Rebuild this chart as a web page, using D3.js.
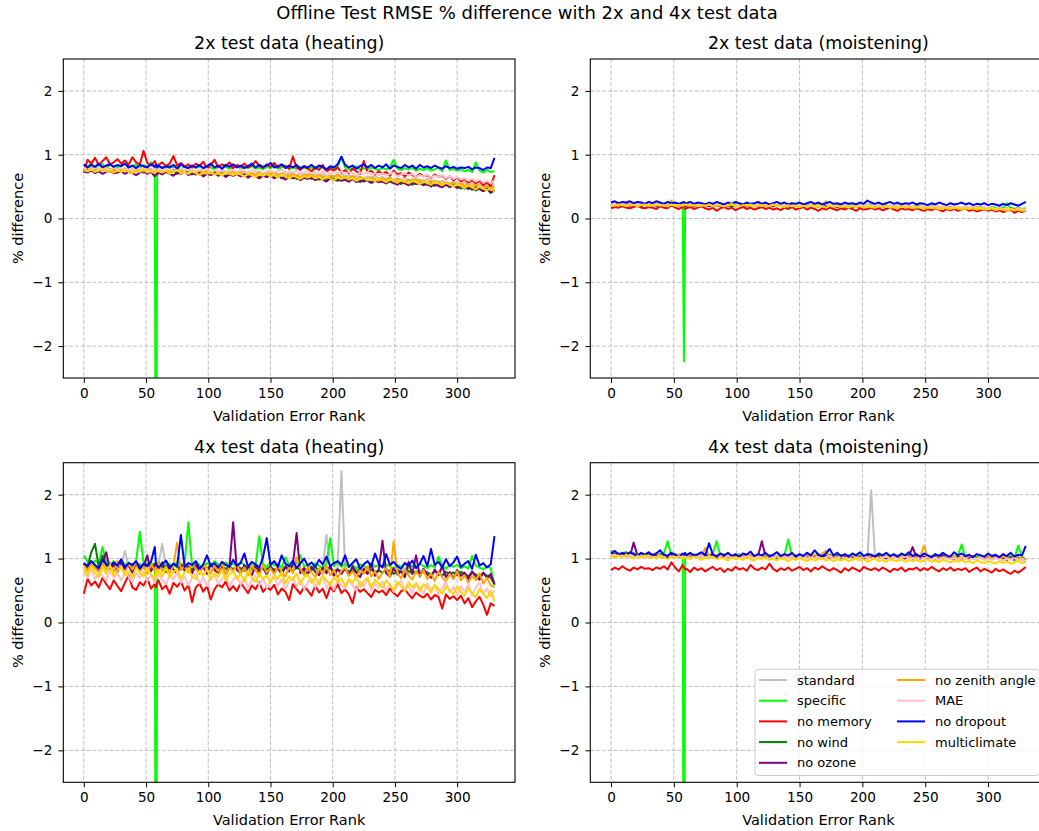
<!DOCTYPE html>
<html><head><meta charset="utf-8">
<script src="https://cdn.jsdelivr.net/npm/d3@7"></script>
<style>body{margin:0;background:#fff} svg{display:block;font-family:"DejaVu Sans",sans-serif}</style>
</head><body><svg id="c" width="1039" height="831"></svg>
<script>
const seriesNames = ["standard","specific","no memory","no wind","no ozone","no zenith angle","MAE","no dropout","multiclimate"];
const seriesColors = ["#c0c0c0","#00ff00","#ff0000","#008000","#800080","#ffa500","#ffc0cb","#0000ff","#ffd700"];
const xTicks = [0,50,100,150,200,250,300];
const yTicks = [-2,-1,0,1,2];
// validation error ranks at which values were read (every 3rd rank, plus 58 and 59)
const ranks = [...d3.range(0, 58, 3), 58, 59, ...d3.range(60, 331, 3)];

// ---- 2x heating ----
const h2_standard = [0.79,0.77,0.80,0.76,0.78,0.75,0.79,0.77,0.74,0.78, 0.76,0.79,0.75,0.77,0.74,0.78,0.76,0.73,0.77,0.75,0.76,0.74, 0.77,0.74,0.76,0.73,0.77,0.75,0.72,0.76,0.74,0.77, 0.73,0.75,0.72,0.76,0.71,0.74,0.72,0.75,0.70,0.73, 0.74,0.71,0.73,0.70,0.74,0.71,0.69,0.73,0.70,0.72, 0.70,0.73,0.69,0.71,0.68,0.72,0.69,0.67,0.71,0.68, 0.70,0.67,0.69,0.66,0.70,0.67,0.65,0.68,0.66,0.69, 0.66,0.68,0.64,0.67,0.65,0.62,0.66,0.64,0.67,0.63, 0.65,0.62,0.64,0.60,0.63,0.61,0.64,0.59,0.62,0.60, 0.61,0.58,0.62,0.57,0.60,0.56,0.59,0.57,0.55,0.58, 0.56,0.53,0.57,0.52,0.55,0.51,0.54,0.50,0.53,0.48,0.52];
const h2_specific = [0.84,0.81,0.86,0.80,0.83,0.85,0.79,0.84,0.82,0.80, 0.83,0.86,0.80,0.82,0.85,0.79,0.84,0.81,0.88,0.82,-6.5,0.81, 0.80,0.81,0.79,0.83,0.80,0.84,0.78,0.82,0.80,0.83, 0.79,0.82,0.78,0.81,0.80,0.77,0.82,0.79,0.81,0.78, 0.80,0.83,0.78,0.81,0.79,0.82,0.78,0.80,0.77,0.81, 0.79,0.82,0.78,0.80,0.83,0.77,0.80,0.78,0.81,0.79, 0.78,0.80,0.77,0.81,0.79,0.76,0.80,0.78,0.82,0.96, 0.80,0.77,0.79,0.82,0.76,0.79,0.77,0.80,0.78,0.76, 0.79,0.77,0.80,0.92,0.78,0.76,0.79,0.77,0.80,0.75, 0.78,0.76,0.79,0.75,0.77,0.80,0.74,0.91,0.76,0.78, 0.75,0.77,0.74,0.76,0.73,0.88,0.75,0.72,0.76,0.73,0.74];
const h2_noMemory = [0.72,0.92,0.86,0.95,0.84,0.90,0.96,0.85,0.88,0.93, 0.86,0.91,0.84,0.96,0.88,0.85,1.06,0.87,0.83,0.90,0.86,0.81, 0.84,0.88,0.82,0.86,0.98,0.83,0.87,0.81,0.85,0.80, 0.86,0.82,0.89,0.78,0.84,0.92,0.80,0.85,0.82,0.88, 0.79,0.84,0.81,0.86,0.80,0.83,0.90,0.82,0.79,0.85, 0.81,0.87,0.80,0.84,0.82,0.78,0.97,0.80,0.76,0.82, 0.78,0.74,0.80,0.76,0.84,0.73,0.78,0.75,0.80,0.72, 0.76,0.71,0.78,0.74,0.70,0.90,0.72,0.75,0.69,0.74, 0.70,0.73,0.67,0.75,0.69,0.71,0.66,0.72,0.68,0.65, 0.70,0.66,0.68,0.63,0.69,0.65,0.67,0.62,0.66,0.60, 0.64,0.58,0.62,0.56,0.60,0.55,0.59,0.52,0.57,0.50,0.68];
const h2_noWind = [0.77,0.79,0.74,0.80,0.76,0.78,0.75,0.77,0.73,0.76, 0.75,0.77,0.73,0.76,0.74,0.78,0.72,0.75,0.73,0.71,0.74,0.72, 0.75,0.72,0.74,0.71,0.76,0.70,0.73,0.75,0.71,0.69, 0.72,0.70,0.67,0.71,0.69,0.73,0.68,0.71,0.66,0.70, 0.68,0.71,0.67,0.69,0.66,0.70,0.67,0.65,0.69,0.66, 0.68,0.65,0.67,0.63,0.66,0.64,0.67,0.62,0.65,0.63, 0.65,0.62,0.64,0.61,0.63,0.60,0.64,0.62,0.59,0.63, 0.61,0.58,0.62,0.60,0.57,0.61,0.59,0.56,0.60,0.58, 0.59,0.56,0.58,0.55,0.57,0.54,0.58,0.55,0.53,0.56, 0.54,0.57,0.52,0.55,0.51,0.54,0.50,0.53,0.49,0.52, 0.50,0.47,0.51,0.46,0.49,0.44,0.47,0.43,0.46,0.40,0.44];
const h2_noOzone = [0.74,0.72,0.76,0.71,0.74,0.70,0.73,0.75,0.71,0.72, 0.74,0.70,0.73,0.71,0.68,0.72,0.74,0.70,0.73,0.66,0.71,0.69, 0.72,0.69,0.73,0.70,0.67,0.72,0.70,0.74,0.68,0.71, 0.69,0.72,0.66,0.70,0.68,0.71,0.67,0.70,0.65,0.69, 0.67,0.70,0.66,0.69,0.64,0.68,0.66,0.63,0.67,0.65, 0.68,0.63,0.66,0.64,0.61,0.65,0.63,0.66,0.60,0.64, 0.62,0.65,0.60,0.63,0.61,0.58,0.63,0.60,0.62,0.59, 0.61,0.58,0.62,0.57,0.60,0.58,0.61,0.56,0.59,0.57, 0.58,0.55,0.60,0.56,0.53,0.58,0.55,0.52,0.57,0.54, 0.56,0.52,0.55,0.50,0.54,0.51,0.49,0.53,0.50,0.52, 0.48,0.51,0.47,0.50,0.45,0.49,0.46,0.43,0.47,0.41,0.45];
const h2_noZenith = [0.78,0.75,0.79,0.74,0.77,0.76,0.80,0.73,0.77,0.75, 0.76,0.78,0.73,0.77,0.75,0.79,0.74,0.76,0.78,0.73,0.77,0.74, 0.76,0.74,0.78,0.72,0.75,0.77,0.73,0.76,0.80,0.74, 0.72,0.75,0.71,0.74,0.70,0.76,0.72,0.69,0.74,0.71, 0.73,0.70,0.72,0.75,0.69,0.71,0.68,0.73,0.70,0.72, 0.69,0.72,0.67,0.70,0.73,0.66,0.70,0.68,0.65,0.69, 0.67,0.70,0.65,0.68,0.66,0.63,0.68,0.65,0.69,0.64, 0.66,0.63,0.67,0.61,0.65,0.63,0.60,0.64,0.62,0.59, 0.63,0.60,0.64,0.58,0.62,0.59,0.57,0.61,0.58,0.62, 0.57,0.60,0.55,0.59,0.56,0.58,0.54,0.57,0.53,0.56, 0.52,0.55,0.51,0.54,0.49,0.53,0.50,0.47,0.51,0.46,0.50];
const h2_MAE = [0.78,0.80,0.76,0.79,0.77,0.81,0.78,0.76,0.80,0.77, 0.79,0.76,0.78,0.75,0.80,0.77,0.79,0.74,0.77,0.76,0.79,0.75, 0.78,0.75,0.77,0.79,0.74,0.77,0.80,0.75,0.78,0.76, 0.74,0.77,0.75,0.78,0.73,0.76,0.74,0.77,0.72,0.75, 0.76,0.73,0.77,0.74,0.72,0.76,0.73,0.75,0.71,0.74, 0.75,0.72,0.74,0.77,0.71,0.74,0.72,0.75,0.70,0.73, 0.74,0.71,0.73,0.70,0.74,0.72,0.69,0.73,0.71,0.74, 0.70,0.73,0.71,0.68,0.72,0.70,0.73,0.69,0.71,0.68, 0.71,0.67,0.70,0.72,0.66,0.69,0.71,0.67,0.70,0.65, 0.68,0.66,0.69,0.64,0.67,0.65,0.68,0.63,0.66,0.62, 0.65,0.61,0.63,0.59,0.62,0.58,0.61,0.56,0.59,0.55,0.60];
const h2_noDropout = [0.85,0.80,0.84,0.81,0.86,0.80,0.83,0.85,0.81,0.84, 0.82,0.86,0.80,0.83,0.79,0.84,0.82,0.80,0.85,0.81,0.84,0.80, 0.83,0.79,0.82,0.80,0.84,0.78,0.85,0.81,0.79,0.83, 0.80,0.84,0.79,0.82,0.86,0.80,0.83,0.78,0.84,0.81, 0.85,0.80,0.83,0.79,0.82,0.86,0.80,0.84,0.81,0.83, 0.87,0.80,0.82,0.85,0.79,0.83,0.80,0.84,0.78,0.82, 0.80,0.84,0.79,0.83,0.81,0.77,0.82,0.80,0.85,0.97, 0.84,0.80,0.83,0.78,0.82,0.85,0.80,0.84,0.79,0.83, 0.80,0.85,0.78,0.83,0.81,0.79,0.84,0.80,0.83,0.78, 0.84,0.80,0.82,0.79,0.83,0.80,0.78,0.82,0.79,0.81, 0.78,0.80,0.79,0.81,0.77,0.80,0.79,0.76,0.80,0.79,0.95];
const h2_multiclimate = [0.76,0.74,0.77,0.73,0.75,0.78,0.74,0.76,0.72,0.75, 0.73,0.76,0.74,0.71,0.75,0.73,0.77,0.72,0.74,0.71,0.73,0.75, 0.74,0.72,0.75,0.70,0.73,0.76,0.71,0.73,0.70,0.74, 0.71,0.68,0.72,0.70,0.73,0.69,0.71,0.67,0.72,0.70, 0.68,0.71,0.69,0.66,0.70,0.68,0.65,0.69,0.67,0.70, 0.66,0.68,0.64,0.69,0.66,0.63,0.67,0.65,0.62,0.66, 0.64,0.67,0.63,0.65,0.61,0.66,0.63,0.60,0.64,0.62, 0.65,0.61,0.63,0.59,0.62,0.64,0.60,0.62,0.58,0.63, 0.60,0.57,0.61,0.59,0.56,0.60,0.58,0.55,0.59,0.57, 0.54,0.58,0.56,0.53,0.57,0.55,0.52,0.56,0.53,0.50, 0.54,0.51,0.48,0.52,0.49,0.46,0.50,0.47,0.44,0.48,0.42];

// ---- 2x moistening ----
const m2_standard = [0.22,0.21,0.23,0.22,0.21,0.23,0.22,0.20,0.22,0.21, 0.22,0.20,0.22,0.21,0.23,0.21,0.22,0.20,0.21,0.22,0.21,0.22, 0.21,0.22,0.20,0.22,0.21,0.20,0.22,0.21,0.20,0.22, 0.21,0.20,0.22,0.21,0.19,0.21,0.20,0.22,0.20,0.21, 0.20,0.22,0.20,0.21,0.19,0.21,0.20,0.19,0.21,0.20, 0.21,0.19,0.20,0.22,0.19,0.20,0.21,0.19,0.20,0.21, 0.19,0.20,0.18,0.20,0.19,0.21,0.19,0.20,0.22,0.20, 0.19,0.20,0.18,0.19,0.20,0.18,0.19,0.17,0.19,0.18, 0.19,0.17,0.18,0.19,0.17,0.18,0.16,0.18,0.17,0.18, 0.16,0.18,0.17,0.16,0.18,0.16,0.17,0.15,0.17,0.16, 0.15,0.17,0.16,0.14,0.16,0.15,0.14,0.16,0.13,0.15,0.14];
const m2_specific = [0.23,0.22,0.24,0.21,0.23,0.22,0.24,0.21,0.23,0.22, 0.21,0.23,0.22,0.20,0.23,0.21,0.22,0.24,0.21,0.22,-2.24,0.21, 0.22,0.21,0.23,0.20,0.22,0.21,0.23,0.20,0.22,0.21, 0.20,0.22,0.21,0.23,0.20,0.22,0.21,0.20,0.22,0.21, 0.22,0.20,0.21,0.23,0.20,0.21,0.19,0.22,0.20,0.21, 0.20,0.22,0.19,0.21,0.20,0.22,0.19,0.21,0.20,0.19, 0.21,0.19,0.20,0.22,0.19,0.21,0.20,0.19,0.21,0.22, 0.20,0.19,0.21,0.18,0.20,0.19,0.21,0.18,0.20,0.19, 0.18,0.20,0.19,0.17,0.19,0.18,0.20,0.17,0.19,0.18, 0.17,0.19,0.18,0.16,0.18,0.17,0.19,0.16,0.18,0.17, 0.16,0.18,0.17,0.15,0.17,0.24,0.16,0.15,0.17,0.15,0.16];
const m2_noMemory = [0.16,0.18,0.17,0.19,0.17,0.16,0.18,0.20,0.17,0.16, 0.18,0.17,0.15,0.19,0.17,0.16,0.21,0.17,0.15,0.18,0.17,0.15, 0.16,0.18,0.15,0.17,0.19,0.16,0.14,0.17,0.12,0.16, 0.18,0.15,0.17,0.13,0.16,0.18,0.15,0.17,0.14,0.16, 0.18,0.15,0.17,0.14,0.16,0.13,0.17,0.15,0.18,0.14, 0.16,0.18,0.14,0.17,0.15,0.12,0.16,0.14,0.17,0.15, 0.13,0.16,0.14,0.17,0.15,0.12,0.16,0.14,0.15,0.17, 0.14,0.16,0.13,0.15,0.17,0.14,0.12,0.16,0.14,0.15, 0.13,0.16,0.14,0.12,0.15,0.13,0.16,0.14,0.11,0.15, 0.13,0.15,0.12,0.14,0.16,0.12,0.14,0.11,0.13,0.15, 0.12,0.14,0.11,0.13,0.10,0.12,0.14,0.09,0.12,0.10,0.13];
const m2_noWind = [0.21,0.23,0.22,0.20,0.22,0.21,0.23,0.22,0.20,0.22, 0.21,0.22,0.20,0.22,0.21,0.23,0.20,0.21,0.22,0.20,0.21,0.22, 0.21,0.20,0.22,0.21,0.19,0.22,0.20,0.21,0.20,0.22, 0.20,0.21,0.19,0.22,0.20,0.21,0.19,0.21,0.20,0.19, 0.21,0.19,0.20,0.22,0.19,0.21,0.20,0.19,0.20,0.21, 0.19,0.21,0.20,0.19,0.21,0.19,0.20,0.18,0.20,0.19, 0.20,0.18,0.19,0.21,0.18,0.20,0.19,0.18,0.20,0.19, 0.18,0.20,0.19,0.17,0.19,0.18,0.20,0.17,0.18,0.19, 0.17,0.18,0.16,0.18,0.17,0.19,0.16,0.18,0.17,0.16, 0.18,0.16,0.17,0.15,0.17,0.16,0.18,0.15,0.16,0.17, 0.15,0.16,0.14,0.16,0.15,0.13,0.16,0.14,0.15,0.13,0.14];
const m2_noOzone = [0.22,0.20,0.22,0.21,0.23,0.20,0.22,0.21,0.20,0.22, 0.20,0.22,0.21,0.19,0.22,0.20,0.21,0.23,0.20,0.21,0.22,0.20, 0.20,0.22,0.19,0.21,0.20,0.22,0.19,0.21,0.20,0.19, 0.21,0.20,0.22,0.19,0.21,0.20,0.19,0.21,0.20,0.22, 0.19,0.21,0.20,0.19,0.21,0.20,0.18,0.20,0.19,0.21, 0.20,0.19,0.21,0.18,0.20,0.19,0.21,0.18,0.19,0.20, 0.18,0.20,0.19,0.18,0.20,0.19,0.17,0.19,0.20,0.18, 0.19,0.18,0.20,0.17,0.19,0.18,0.17,0.19,0.18,0.20, 0.17,0.19,0.18,0.16,0.18,0.17,0.19,0.16,0.18,0.17, 0.16,0.18,0.17,0.15,0.17,0.16,0.15,0.17,0.16,0.14, 0.16,0.15,0.13,0.15,0.14,0.16,0.13,0.15,0.14,0.12,0.14];
const m2_noZenith = [0.22,0.21,0.23,0.22,0.20,0.22,0.21,0.23,0.21,0.22, 0.20,0.22,0.21,0.23,0.21,0.20,0.28,0.21,0.20,0.22,0.21,0.23, 0.21,0.22,0.20,0.21,0.23,0.20,0.22,0.21,0.20,0.22, 0.21,0.20,0.22,0.20,0.21,0.23,0.20,0.21,0.19,0.21, 0.20,0.22,0.19,0.21,0.20,0.22,0.19,0.21,0.20,0.19, 0.21,0.20,0.19,0.21,0.20,0.18,0.21,0.27,0.20,0.19, 0.20,0.19,0.21,0.18,0.20,0.19,0.21,0.18,0.20,0.19, 0.18,0.20,0.19,0.21,0.18,0.19,0.17,0.20,0.18,0.19, 0.18,0.17,0.19,0.18,0.16,0.18,0.17,0.19,0.16,0.18, 0.17,0.16,0.18,0.17,0.15,0.17,0.16,0.18,0.15,0.16, 0.15,0.17,0.14,0.16,0.15,0.13,0.15,0.14,0.16,0.13,0.14];
const m2_MAE = [0.22,0.23,0.21,0.23,0.22,0.21,0.23,0.22,0.24,0.21, 0.23,0.22,0.21,0.23,0.22,0.24,0.21,0.22,0.23,0.21,0.22,0.23, 0.22,0.23,0.21,0.22,0.20,0.23,0.21,0.22,0.24,0.21, 0.22,0.21,0.23,0.20,0.22,0.21,0.23,0.20,0.22,0.21, 0.20,0.22,0.21,0.23,0.20,0.22,0.21,0.20,0.22,0.21, 0.22,0.20,0.21,0.19,0.22,0.20,0.21,0.23,0.20,0.21, 0.19,0.21,0.20,0.22,0.19,0.21,0.20,0.19,0.21,0.20, 0.21,0.19,0.20,0.18,0.21,0.19,0.20,0.18,0.20,0.19, 0.20,0.18,0.19,0.17,0.19,0.18,0.20,0.17,0.19,0.18, 0.17,0.19,0.18,0.16,0.18,0.17,0.19,0.16,0.17,0.18, 0.16,0.17,0.15,0.17,0.14,0.16,0.15,0.13,0.16,0.14,0.15];
const m2_noDropout = [0.25,0.27,0.24,0.26,0.25,0.27,0.24,0.26,0.25,0.23, 0.26,0.24,0.27,0.25,0.23,0.26,0.24,0.25,0.23,0.25,0.26,0.24, 0.24,0.26,0.23,0.25,0.24,0.22,0.25,0.23,0.26,0.24, 0.22,0.25,0.23,0.26,0.24,0.22,0.25,0.23,0.24,0.26, 0.23,0.25,0.22,0.24,0.26,0.23,0.25,0.22,0.24,0.23, 0.25,0.22,0.24,0.26,0.23,0.25,0.22,0.24,0.26,0.23, 0.24,0.22,0.25,0.23,0.24,0.22,0.25,0.23,0.28,0.25, 0.23,0.25,0.22,0.24,0.26,0.23,0.25,0.22,0.24,0.23, 0.25,0.22,0.24,0.23,0.21,0.24,0.22,0.25,0.23,0.21, 0.24,0.22,0.23,0.25,0.22,0.24,0.21,0.23,0.22,0.24, 0.21,0.23,0.22,0.20,0.23,0.21,0.24,0.22,0.20,0.23,0.26];
const m2_multiclimate = [0.21,0.20,0.22,0.21,0.20,0.22,0.21,0.19,0.21,0.22, 0.20,0.21,0.22,0.20,0.21,0.19,0.22,0.20,0.21,0.20,0.21,0.22, 0.22,0.20,0.21,0.19,0.21,0.20,0.22,0.19,0.21,0.20, 0.19,0.21,0.23,0.20,0.19,0.21,0.20,0.22,0.19,0.20, 0.21,0.19,0.20,0.22,0.19,0.20,0.18,0.21,0.19,0.20, 0.18,0.20,0.19,0.21,0.18,0.20,0.19,0.17,0.20,0.19, 0.20,0.18,0.19,0.17,0.20,0.18,0.19,0.17,0.19,0.18, 0.17,0.19,0.18,0.20,0.17,0.18,0.16,0.19,0.17,0.18, 0.16,0.18,0.17,0.15,0.18,0.16,0.17,0.15,0.17,0.16, 0.15,0.17,0.16,0.14,0.17,0.15,0.16,0.14,0.16,0.15, 0.14,0.16,0.13,0.15,0.14,0.12,0.15,0.13,0.14,0.12,0.13];

// ---- 4x heating ----
const h4_standard = [0.90,0.86,0.93,0.88,0.85,0.91,0.87,0.94,0.89,0.86, 0.92,1.12,0.88,0.91,0.86,0.93,0.88,0.85,0.90,0.87,0.86,0.91, 0.91,1.23,0.87,0.84,0.90,0.86,0.92,0.85,0.89,0.83, 0.88,0.84,0.91,0.86,0.82,0.89,0.85,0.90,0.83,0.87, 0.84,0.89,0.82,0.87,0.85,0.81,0.88,0.84,0.86,0.82, 0.87,0.83,0.86,0.80,0.88,0.84,0.81,0.86,0.82,0.85, 0.81,0.86,0.83,0.79,0.85,1.37,0.84,0.80,0.86,2.37, 0.83,0.79,0.85,0.81,0.78,0.84,0.80,0.86,0.79,0.82, 0.78,0.84,0.80,0.77,0.83,0.79,0.85,0.76,0.81,0.78, 0.82,0.77,0.80,0.75,0.81,0.78,0.74,0.80,0.76,0.79, 0.75,0.80,0.77,0.73,0.79,0.75,0.72,0.78,0.74,0.71,0.62];
const h4_specific = [1.05,0.95,0.90,0.97,0.92,1.18,0.94,0.89,0.96,0.91, 0.98,0.90,0.94,0.88,0.96,1.42,0.93,0.98,0.90,0.93,-7.5,0.91, 0.94,0.89,0.96,0.91,0.87,0.95,0.90,0.93,1.57,0.88, 0.95,0.90,0.86,0.93,0.89,0.96,0.91,0.87,0.94,0.89, 0.92,0.88,0.95,0.90,0.86,0.93,0.89,1.35,0.91,0.87, 0.94,0.89,0.92,0.86,1.02,0.90,0.87,0.93,1.05,0.88, 0.91,0.86,0.93,0.89,0.85,0.92,1.32,0.88,0.95,0.87, 0.92,0.86,0.90,0.84,0.91,0.88,0.85,0.93,0.87,0.90, 0.86,0.91,0.88,0.84,0.90,0.87,0.93,0.85,0.89,0.86, 0.92,0.88,0.85,0.90,0.86,1.03,0.89,0.84,0.91,0.87, 0.90,0.85,0.88,0.84,1.04,0.89,0.86,0.83,0.88,0.85,0.58];
const h4_noMemory = [0.45,0.68,0.58,0.64,0.55,0.70,0.60,0.52,0.66,0.57, 0.49,0.62,0.74,0.55,0.51,0.63,0.58,0.69,0.53,0.60,0.55,0.63, 0.66,0.52,0.58,0.45,0.62,0.56,0.64,0.50,0.59,0.32, 0.55,0.61,0.48,0.57,0.36,0.52,0.60,0.55,0.64,0.50, 0.57,0.49,0.62,0.54,0.46,0.58,0.52,0.63,0.48,0.55, 0.51,0.59,0.44,0.53,0.48,0.35,0.60,0.52,0.45,0.56, 0.50,0.42,0.58,0.47,0.53,0.38,0.55,0.49,0.60,0.46, 0.52,0.44,0.30,0.55,0.48,0.52,0.46,0.40,0.51,0.47, 0.50,0.43,0.53,0.46,0.41,0.49,0.52,0.44,0.38,0.47, 0.42,0.39,0.45,0.36,0.43,0.40,0.22,0.44,0.37,0.41, 0.35,0.42,0.30,0.38,0.24,0.33,0.40,0.28,0.12,0.30,0.26];
const h4_noWind = [0.92,0.88,1.10,1.23,0.87,1.05,0.90,0.86,0.93,0.89, 0.95,0.87,0.91,0.85,0.93,0.89,0.86,0.92,0.88,0.84,0.90,0.87, 0.91,0.86,0.89,0.84,0.92,0.87,0.85,0.90,0.86,0.83, 0.89,0.85,0.88,0.83,0.90,0.86,0.82,0.88,0.84,0.87, 0.83,0.88,0.85,0.81,0.87,0.84,0.89,0.82,0.86,0.83, 0.87,0.82,0.85,0.80,0.88,0.84,0.81,0.86,0.83,0.79, 0.85,0.82,0.87,0.80,0.84,0.81,0.86,0.79,0.83,0.80, 0.84,0.79,0.82,0.78,0.85,0.80,0.77,0.83,0.79,0.81, 0.78,0.83,0.80,0.76,0.82,0.79,0.75,0.81,0.77,0.80, 0.76,0.81,0.78,0.74,0.80,0.77,0.73,0.79,0.75,0.78, 0.74,0.79,0.76,0.72,0.78,0.75,0.71,0.77,0.73,0.70,0.60];
const h4_noOzone = [0.92,0.82,0.96,0.86,0.80,0.93,1.10,0.83,0.90,0.79, 0.95,0.83,0.89,0.78,0.92,0.82,0.88,1.05,0.80,0.91,0.85,0.81, 0.84,0.94,0.79,0.89,0.83,0.76,0.91,0.81,0.88,0.77, 0.90,0.80,0.87,0.76,0.92,0.82,0.78,0.89,0.75,0.86, 1.57,0.82,0.77,0.90,0.80,0.74,0.88,0.79,0.86,0.75, 0.88,0.78,0.85,0.75,0.87,0.80,0.91,1.40,0.77,0.85, 0.76,0.87,0.79,0.74,0.86,0.77,0.89,0.73,0.83,0.76, 0.85,0.74,0.88,0.78,0.71,0.84,0.76,0.92,0.73,0.83, 1.28,0.77,0.72,0.85,0.75,0.80,0.71,0.95,0.76,1.05, 0.72,0.84,0.75,0.70,0.83,0.74,0.88,0.71,0.79,0.69, 0.82,0.73,0.78,0.68,0.80,0.72,0.67,0.78,0.70,0.76,0.60];
const h4_noZenith = [0.90,0.81,0.95,0.85,0.78,0.93,0.83,0.89,0.79,0.96, 0.85,0.78,0.92,0.83,0.95,0.80,0.88,0.76,0.91,0.82,0.87,0.80, 0.93,0.80,0.87,0.77,0.90,1.25,0.82,0.89,0.78,0.92, 0.84,0.76,0.91,0.82,0.77,0.89,0.80,0.94,0.75,0.87, 0.80,0.91,0.76,0.86,0.74,0.88,0.82,0.73,0.90,0.78, 0.85,0.75,0.89,0.80,0.72,0.87,0.77,1.02,0.84,0.74, 0.87,0.78,0.71,0.85,0.76,0.89,0.74,0.82,0.70,0.81, 0.86,0.73,0.80,0.69,0.84,0.76,0.88,0.72,0.80,0.68, 0.78,0.85,0.71,1.27,0.77,0.69,0.83,0.73,0.67,0.80, 0.72,0.82,0.68,0.77,0.65,0.79,0.71,0.64,0.76,0.68, 0.80,0.66,0.74,0.62,0.73,0.66,0.77,0.61,0.70,0.58,0.55];
const h4_MAE = [0.80,0.70,0.84,0.68,0.78,0.73,0.65,0.82,0.70,0.77, 0.66,0.79,0.72,0.63,0.78,0.69,0.81,0.65,0.74,0.62,0.76,0.70, 0.77,0.66,0.60,0.74,0.67,0.79,0.62,0.72,0.58,0.70, 0.76,0.61,0.70,0.57,0.71,0.75,0.60,0.68,0.74,0.56, 0.67,0.73,0.59,0.71,0.55,0.66,0.74,0.58,0.69,0.54, 0.65,0.72,0.57,0.68,0.53,0.64,0.71,0.56,0.67,0.52, 0.63,0.70,0.55,0.66,0.72,0.54,0.64,0.51,0.68,0.58, 0.53,0.66,0.58,0.50,0.65,0.56,0.68,0.49,0.61,0.55, 0.64,0.50,0.60,0.48,0.59,0.66,0.49,0.57,0.46,0.62, 0.55,0.45,0.61,0.51,0.58,0.44,0.54,0.64,0.47,0.56, 0.43,0.57,0.48,0.60,0.42,0.55,0.62,0.46,0.53,0.41,0.50];
const h4_noDropout = [0.93,0.88,0.96,0.90,0.85,0.98,0.91,0.87,0.94,0.89, 0.99,0.86,0.93,0.90,0.96,0.84,0.92,0.88,0.95,1.18,0.92,0.88, 0.86,0.91,0.97,0.85,0.92,0.88,1.37,0.87,0.93,0.90, 0.96,0.84,0.91,1.05,0.88,0.93,0.86,0.95,0.90,0.87, 0.98,0.89,0.93,1.08,0.87,0.95,0.91,0.86,1.02,1.32, 0.90,0.96,0.87,1.05,0.92,0.88,0.97,0.85,0.93,1.00, 0.89,0.94,0.87,0.98,0.91,1.03,0.88,0.93,0.96,0.90, 1.05,0.87,0.93,0.99,0.84,0.91,0.96,0.88,1.08,0.92, 0.86,1.07,0.90,0.95,0.88,0.84,0.93,0.89,0.97,0.85, 0.92,1.04,0.88,1.15,0.90,0.95,0.86,0.99,0.88,0.94, 1.03,0.87,0.92,0.96,0.84,1.06,0.89,0.93,0.86,0.91,1.35];
const h4_multiclimate = [0.84,0.74,0.88,0.78,0.71,0.86,0.76,0.90,0.73,0.82, 0.87,0.74,0.80,0.70,0.86,0.77,0.72,0.85,0.75,0.69,0.80,0.74, 0.82,0.72,0.86,0.71,0.79,0.84,0.69,0.78,0.85,0.72, 0.68,0.81,0.73,0.84,0.67,0.78,0.71,0.83,0.66,0.76, 0.80,0.68,0.76,0.64,0.81,0.70,0.63,0.77,0.68,0.74, 0.62,0.75,0.68,0.79,0.61,0.72,0.66,0.77,0.60,0.71, 0.75,0.62,0.70,0.59,0.74,0.66,0.58,0.71,0.63,0.69, 0.57,0.68,0.62,0.72,0.56,0.65,0.70,0.55,0.67,0.61, 0.54,0.66,0.59,0.51,0.64,0.57,0.50,0.63,0.55,0.61, 0.49,0.60,0.55,0.47,0.59,0.52,0.45,0.57,0.50,0.44, 0.56,0.48,0.42,0.54,0.46,0.40,0.52,0.45,0.38,0.50,0.33];

// ---- 4x moistening ----
const m4_standard = [1.06,1.03,1.07,1.04,1.08,1.05,1.03,1.07,1.04,1.06, 1.03,1.07,1.05,1.02,1.06,1.04,1.07,1.03,1.05,1.02,1.04,1.06, 1.06,1.04,1.07,1.03,1.05,1.02,1.06,1.04,1.03,1.06, 1.04,1.02,1.05,1.03,1.06,1.02,1.04,1.05,1.01,1.04, 1.02,1.05,1.03,1.06,1.02,1.04,1.01,1.05,1.03,1.02, 1.05,1.02,1.04,1.01,1.05,1.03,1.06,1.02,1.04,1.01, 1.04,1.02,1.05,1.01,1.03,1.06,1.02,1.04,1.01,2.07, 1.03,1.01,1.04,1.02,1.05,1.01,1.03,1.02,1.04,1.00, 1.03,1.01,1.04,1.00,1.03,1.02,1.00,1.03,1.01,1.04, 1.00,1.02,1.01,1.03,0.99,1.02,1.00,1.03,1.01,0.99, 1.02,1.00,1.03,0.99,1.01,1.00,1.02,0.98,1.01,0.99,1.00];
const m4_specific = [1.13,1.05,1.08,1.04,1.07,1.05,1.09,1.04,1.06,1.03, 1.07,1.04,1.06,1.03,1.08,1.27,1.05,1.07,1.04,1.06,-7.0,1.05, 1.05,1.03,1.07,1.04,1.06,1.02,1.05,1.08,1.27,1.04, 1.06,1.03,1.05,1.02,1.07,1.04,1.03,1.06,1.02,1.05, 1.03,1.06,1.02,1.05,1.04,1.02,1.06,1.30,1.04,1.02, 1.05,1.03,1.06,1.02,1.04,1.07,1.03,1.05,1.02,1.04, 1.06,1.03,1.05,1.01,1.04,1.02,1.05,1.03,1.06,1.02, 1.04,1.07,1.02,1.05,1.03,1.01,1.05,1.02,1.04,1.07, 1.03,1.01,1.04,1.02,1.05,1.01,1.03,1.06,1.02,1.04, 1.01,1.03,1.05,1.22,1.02,1.04,1.01,1.03,1.06,1.02, 1.04,1.01,1.03,1.00,1.05,1.02,1.04,1.01,1.20,1.03,0.98];
const m4_noMemory = [0.82,0.86,0.83,0.88,0.84,0.81,0.86,0.83,0.87,0.84, 0.85,0.82,0.86,0.84,0.88,0.83,0.94,0.86,0.80,0.90,0.86,0.83, 0.84,0.79,0.86,0.82,0.85,0.80,0.84,0.87,0.82,0.85, 0.79,0.84,0.81,0.87,0.83,0.85,0.81,0.90,0.84,0.82, 0.86,0.83,0.92,0.84,0.80,0.85,0.82,0.86,0.81,0.84, 0.87,0.82,0.85,0.80,0.86,0.83,0.88,0.84,0.81,0.85, 0.82,0.78,0.85,0.81,0.86,0.83,0.80,0.87,0.84,0.82, 0.85,0.81,0.86,0.83,0.79,0.84,0.82,0.86,0.80,0.84, 0.83,0.86,0.81,0.85,0.82,0.87,0.83,0.80,0.85,0.82, 0.86,0.81,0.84,0.82,0.85,0.79,0.83,0.86,0.80,0.84, 0.81,0.78,0.84,0.80,0.83,0.79,0.76,0.81,0.78,0.82,0.87];
const m4_noWind = [1.05,1.08,1.04,1.07,1.10,1.05,1.03,1.07,1.04,1.06, 1.03,1.06,1.04,1.07,1.02,1.05,1.03,1.06,1.04,1.02,1.05,1.03, 1.05,1.03,1.06,1.02,1.04,1.07,1.03,1.05,1.02,1.04, 1.06,1.02,1.04,1.01,1.05,1.03,1.06,1.02,1.04,1.01, 1.04,1.02,1.05,1.03,1.01,1.04,1.06,1.02,1.04,1.01, 1.03,1.05,1.01,1.04,1.02,1.05,1.01,1.03,1.06,1.02, 1.04,1.01,1.03,1.05,1.02,1.04,1.01,1.03,1.00,1.04, 1.02,1.05,1.01,1.03,1.00,1.04,1.02,1.05,1.01,1.03, 1.00,1.04,1.02,1.01,1.03,1.00,1.04,1.02,1.00,1.03, 1.01,0.99,1.03,1.01,1.04,1.00,1.02,0.99,1.03,1.00, 1.02,0.99,1.01,1.03,0.99,1.02,1.00,0.98,1.02,0.99,0.96];
const m4_noOzone = [1.07,1.04,1.08,1.05,1.06,1.03,1.25,1.05,1.08,1.04, 1.06,1.03,1.07,1.04,1.05,1.02,1.06,1.04,1.03,1.07,1.04,1.06, 1.04,1.02,1.05,1.03,1.06,1.02,1.04,1.07,1.03,1.05, 1.02,1.05,1.03,1.06,1.02,1.04,1.01,1.05,1.03,1.04, 1.27,1.03,1.05,1.02,1.04,1.01,1.05,1.03,1.02,1.05, 1.02,1.04,1.01,1.05,1.03,1.02,1.06,1.03,1.01,1.04, 1.02,1.05,1.01,1.03,1.04,1.01,1.03,1.00,1.04,1.02, 1.04,1.01,1.03,1.00,1.03,1.05,1.01,1.03,1.00,1.04, 1.18,1.02,1.00,1.03,1.01,1.04,1.00,1.02,1.05,1.01, 1.03,1.00,1.02,0.99,1.03,1.01,1.04,1.00,1.02,0.99, 1.02,1.00,1.03,0.99,1.01,0.98,1.02,1.00,0.99,1.01,0.97];
const m4_noZenith = [1.06,1.04,1.07,1.03,1.06,1.05,1.02,1.06,1.04,1.07, 1.03,1.05,1.08,1.04,1.02,1.06,1.03,1.05,1.07,1.04,1.05,1.03, 1.02,1.06,1.04,1.07,1.03,1.17,1.05,1.02,1.06,1.04, 1.07,1.03,1.05,1.02,1.06,1.04,1.03,1.06,1.02,1.05, 1.03,1.06,1.02,1.05,1.03,1.01,1.05,1.03,1.06,1.02, 1.04,1.02,1.05,1.03,1.06,1.02,1.08,1.12,1.03,1.05, 1.02,1.04,1.06,1.02,1.05,1.03,1.01,1.04,1.02,1.05, 1.03,1.01,1.04,1.02,1.05,1.03,1.00,1.04,1.02,1.03, 1.05,1.01,1.03,1.20,1.02,1.04,1.01,1.03,1.00,1.04, 1.02,1.04,1.00,1.03,1.01,1.04,1.02,1.00,1.03,1.01, 1.04,1.00,1.02,0.99,1.03,1.01,0.99,1.02,1.00,1.01,0.97];
const m4_MAE = [1.04,1.06,1.03,1.05,1.02,1.06,1.04,1.03,1.05,1.02, 1.05,1.03,1.02,1.05,1.03,1.06,1.02,1.04,1.01,1.05,1.03,1.04, 1.03,1.01,1.04,1.02,1.05,1.02,1.03,1.01,1.04,1.02, 1.01,1.04,1.02,1.00,1.03,1.01,1.04,1.02,1.00,1.03, 1.02,1.00,1.03,1.01,1.04,1.00,1.02,1.01,1.03,1.00, 1.02,1.04,1.00,1.02,1.01,1.03,0.99,1.02,1.04,1.00, 1.01,1.03,1.00,1.02,0.99,1.02,1.00,1.03,1.01,1.00, 1.02,0.99,1.01,1.03,1.00,1.02,0.99,1.01,1.03,1.00, 1.01,0.99,1.02,1.00,1.03,0.99,1.01,0.98,1.02,1.00, 0.99,1.01,0.98,1.02,1.00,0.98,1.01,0.99,1.02,0.98, 1.00,0.98,1.01,0.99,0.97,1.00,0.98,1.01,0.97,0.99,0.96];
const m4_noDropout = [1.08,1.12,1.06,1.09,1.05,1.10,1.07,1.04,1.09,1.06, 1.10,1.05,1.08,1.13,1.06,1.04,1.09,1.06,1.03,1.08,1.06,1.09, 1.05,1.09,1.04,1.07,1.10,1.05,1.24,1.06,1.03,1.08, 1.05,1.09,1.04,1.07,1.03,1.08,1.06,1.11,1.04,1.07, 1.05,1.09,1.03,1.06,1.10,1.04,1.07,1.05,1.09,1.03, 1.07,1.04,1.09,1.05,1.13,1.06,1.03,1.08,1.15,1.05, 1.09,1.04,1.07,1.03,1.08,1.05,1.10,1.04,1.07,1.06, 1.03,1.08,1.05,1.09,1.04,1.07,1.03,1.08,1.05,1.10, 1.04,1.07,1.03,1.08,1.05,1.02,1.07,1.04,1.09,1.05, 1.03,1.10,1.05,1.08,1.04,1.06,1.02,1.07,1.05,1.03, 1.08,1.04,1.06,1.02,1.07,1.04,1.09,1.03,1.06,1.05,1.20];
const m4_multiclimate = [1.04,1.01,1.05,1.02,1.06,1.03,1.00,1.04,1.02,1.05, 1.01,1.03,1.00,1.04,1.02,0.99,1.03,1.01,1.04,1.00,1.02,1.01, 1.02,0.99,1.03,1.01,0.98,1.02,1.00,1.03,0.99,1.01, 1.00,0.97,1.02,0.99,1.01,0.98,1.02,0.99,0.97,1.01, 0.99,1.02,0.98,1.00,0.97,1.01,0.99,0.96,1.00,0.98, 1.01,0.98,0.96,1.00,0.97,0.99,1.01,0.97,0.99,0.96, 0.99,0.97,1.00,0.96,0.98,1.00,0.97,0.99,0.95,0.98, 1.00,0.96,0.98,0.95,0.99,0.97,0.96,0.99,0.95,0.98, 0.96,0.98,0.95,0.97,0.99,0.95,0.97,0.94,0.98,0.96, 0.94,0.97,0.95,0.98,0.94,0.96,0.93,0.97,0.95,0.93, 0.96,0.94,0.92,0.96,0.93,0.95,0.92,0.94,0.96,0.93,0.95];

const panels = [
  {title:"2x test data (heating)", series:[h2_standard,h2_specific,h2_noMemory,h2_noWind,h2_noOzone,h2_noZenith,h2_MAE,h2_noDropout,h2_multiclimate], box:{l:63.3,r:515,t:59,b:378}, legend:false},
  {title:"2x test data (moistening)", series:[m2_standard,m2_specific,m2_noMemory,m2_noWind,m2_noOzone,m2_noZenith,m2_MAE,m2_noDropout,m2_multiclimate], box:{l:590.3,r:1046.5,t:59,b:378}, legend:false},
  {title:"4x test data (heating)", series:[h4_standard,h4_specific,h4_noMemory,h4_noWind,h4_noOzone,h4_noZenith,h4_MAE,h4_noDropout,h4_multiclimate], box:{l:63.3,r:515,t:462.7,b:782.3}, legend:false},
  {title:"4x test data (moistening)", series:[m4_standard,m4_specific,m4_noMemory,m4_noWind,m4_noOzone,m4_noZenith,m4_MAE,m4_noDropout,m4_multiclimate], box:{l:590.3,r:1046.5,t:462.7,b:782.3}, legend:true}
];

const svg = d3.select("#c");
const TICK_FS = 13.6, LABEL_FS = 14.5, TITLE_FS = 17.4, LEGEND_FS = 13;
const minus = d => (d < 0 ? "\u2212" + Math.abs(d) : String(d));

svg.append("text").attr("x", 527).attr("y", 19).attr("text-anchor","middle")
  .attr("font-size", 18).attr("fill","#000").text("Offline Test RMSE % difference with 2x and 4x test data");

panels.forEach((p, pi) => {
  const b = p.box;
  const x = d3.scaleLinear().domain([-16.5, 346.5]).range([b.l, b.r]);
  const y = d3.scaleLinear().domain([-2.5, 2.5]).range([b.b, b.t]);
  const g = svg.append("g");
  const cid = "clip" + pi;
  g.append("clipPath").attr("id", cid).append("rect")
    .attr("x", b.l).attr("y", b.t).attr("width", b.r - b.l).attr("height", b.b - b.t);

  const grid = g.append("g").attr("stroke", "#b0b0b0").attr("stroke-width", 0.8).attr("stroke-dasharray", "4,1.8");
  xTicks.forEach(t => grid.append("line").attr("x1", x(t)).attr("x2", x(t)).attr("y1", b.t).attr("y2", b.b));
  yTicks.forEach(t => grid.append("line").attr("x1", b.l).attr("x2", b.r).attr("y1", y(t)).attr("y2", y(t)));

  const line = d3.line().x((d, i) => x(ranks[i])).y(d => y(d));
  const lg = g.append("g").attr("clip-path", `url(#${cid})`);
  p.series.forEach((s, si) => {
    lg.append("path").datum(s).attr("d", line).attr("fill", "none")
      .attr("stroke", seriesColors[si]).attr("stroke-width", 2).attr("stroke-linejoin", "round");
  });

  const xa = g.append("g").attr("transform", `translate(0,${b.b})`)
    .call(d3.axisBottom(x).tickValues(xTicks).tickSize(4.9).tickPadding(5.5).tickFormat(minus));
  const ya = g.append("g").attr("transform", `translate(${b.l},0)`)
    .call(d3.axisLeft(y).tickValues(yTicks).tickSize(4.9).tickPadding(6).tickFormat(minus));
  [xa, ya].forEach(a => {
    a.select(".domain").remove();
    a.selectAll("text").attr("font-size", TICK_FS).attr("font-family", '"DejaVu Sans",sans-serif').attr("fill", "#000");
    a.selectAll("line").attr("stroke", "#000").attr("stroke-width", 1);
  });
  g.append("rect").attr("x", b.l).attr("y", b.t).attr("width", b.r - b.l).attr("height", b.b - b.t)
    .attr("fill", "none").attr("stroke", "#000").attr("stroke-width", 1.1);

  const cx = (b.l + b.r) / 2;
  g.append("text").attr("x", cx).attr("y", b.t - 10).attr("text-anchor", "middle").attr("font-size", TITLE_FS).text(p.title);
  g.append("text").attr("x", cx).attr("y", b.b + 43).attr("text-anchor", "middle").attr("font-size", LABEL_FS).text("Validation Error Rank");
  g.append("text").attr("transform", `translate(${b.l - 40.5},${(b.t + b.b) / 2}) rotate(-90)`)
    .attr("text-anchor", "middle").attr("font-size", LABEL_FS).text("% difference");

  if (p.legend) {
    const L = {l: 755, t: 669.3, r: 1039.5, bt: 775.5};
    const lgd = svg.append("g");
    lgd.append("rect").attr("x", L.l).attr("y", L.t).attr("width", L.r - L.l).attr("height", L.bt - L.t)
      .attr("rx", 3).attr("fill", "#fff").attr("fill-opacity", 0.8).attr("stroke", "#cccccc").attr("stroke-width", 1);
    seriesNames.forEach((n, i) => {
      const col = i < 5 ? 0 : 1;
      const row = i < 5 ? i : i - 5;
      const hx = col === 0 ? 759 : 897;
      const yy = 680 + row * 20.7;
      lgd.append("line").attr("x1", hx).attr("x2", hx + 28).attr("y1", yy).attr("y2", yy)
        .attr("stroke", seriesColors[i]).attr("stroke-width", 2);
      lgd.append("text").attr("x", hx + 38).attr("y", yy).attr("dy", "0.35em").attr("font-size", LEGEND_FS).text(n);
    });
  }
});
</script></body></html>
